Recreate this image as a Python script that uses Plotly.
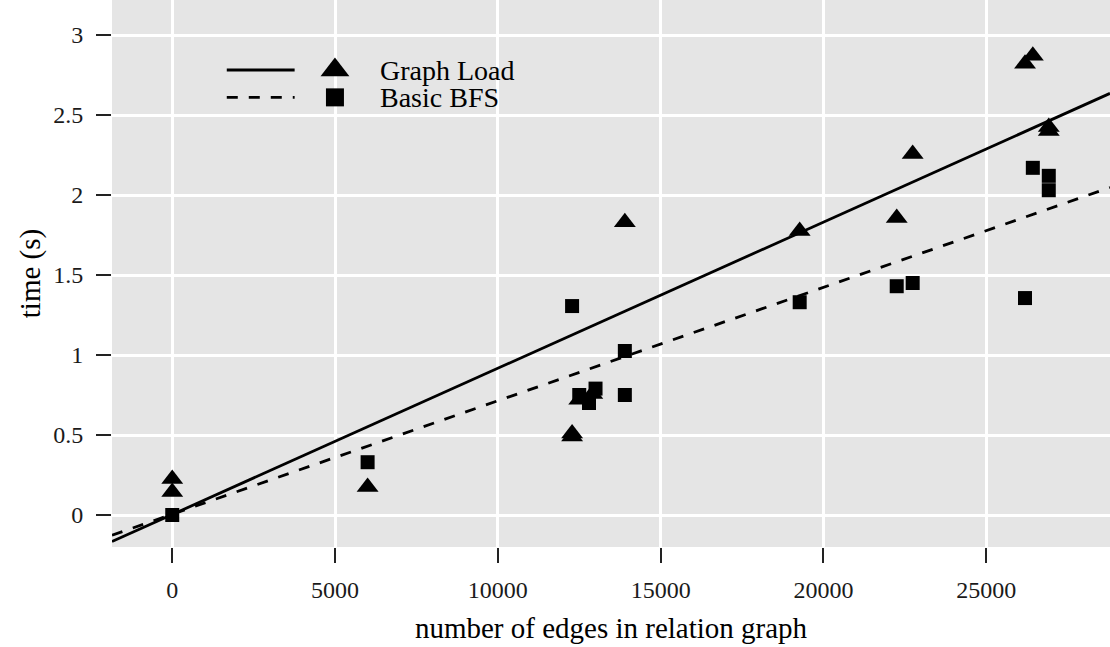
import numpy as np
import plotly.graph_objects as go

# ---- data ----
series_names = ["Graph Load", "Basic BFS"]

load_edges = [0, 0, 6000, 12280, 12280, 12500, 12900, 13900, 19270, 22250, 22740, 26190, 26430, 26920, 26920]
load_time = [0.225, 0.144, 0.175, 0.51, 0.49, 0.72, 0.756, 1.83, 1.775, 1.856, 2.256, 2.82, 2.87, 2.425, 2.40]

bfs_edges = [0, 6000, 12280, 12500, 12800, 13000, 13900, 13900, 19270, 22250, 22740, 26190, 26430, 26920, 26920]
bfs_time = [0.0, 0.33, 1.306, 0.75, 0.70, 0.79, 1.025, 0.75, 1.33, 1.43, 1.45, 1.356, 2.17, 2.12, 2.03]

# linear fits (intercept, slope) as drawn in the reference
fit_intercept = [0.003, 0.005]
fit_slope = [9.14e-5, 7.09e-5]

x_ticks = [0, 5000, 10000, 15000, 20000, 25000]
y_ticks = [0, 0.5, 1, 1.5, 2, 2.5, 3]
y_tick_text = ["0", "0.5", "1", "1.5", "2", "2.5", "3"]

x_range = [-1850, 28800]
y_range = [-0.2, 3.219]

FONT = "Liberation Serif"
INK = "#000000"

fig = go.Figure()

# regression lines across the full panel
xs = np.array(x_range, dtype=float)
dashes = ["solid", "11px,11px"]
for i in range(2):
    fig.add_trace(go.Scatter(
        x=xs, y=fit_intercept[i] + fit_slope[i] * xs,
        mode="lines", line=dict(color=INK, width=2.8, dash=dashes[i]),
        showlegend=False, hoverinfo="skip"))

fig.add_trace(go.Scatter(
    x=load_edges, y=load_time, mode="markers", name=series_names[0],
    marker=dict(symbol="triangle-up", size=19, color=INK, line=dict(width=0)),
    showlegend=False))
fig.add_trace(go.Scatter(
    x=bfs_edges, y=bfs_time, mode="markers", name=series_names[1],
    marker=dict(symbol="square", size=14, color=INK, line=dict(width=0)),
    showlegend=False))

# ---- manual legend drawn on an overlay axis (0..1) ----
leg_line_x = [0.115, 0.183]
leg_rows_y = [0.872, 0.822]
leg_marker_x = 0.2234
leg_symbols = ["triangle-up", "square"]
leg_sizes = [25, 18]
for i in range(2):
    fig.add_trace(go.Scatter(
        x=leg_line_x, y=[leg_rows_y[i]] * 2, xaxis="x2", yaxis="y2",
        mode="lines", line=dict(color=INK, width=2.8, dash=dashes[i]),
        showlegend=False, hoverinfo="skip"))
    fig.add_trace(go.Scatter(
        x=[leg_marker_x], y=[leg_rows_y[i]], xaxis="x2", yaxis="y2",
        mode="markers",
        marker=dict(symbol=leg_symbols[i], size=leg_sizes[i], color=INK, line=dict(width=0)),
        showlegend=False, hoverinfo="skip"))
    fig.add_annotation(
        x=0.2665, y=leg_rows_y[i], xref="x2", yref="y2",
        text=series_names[i], showarrow=False, xanchor="left", yanchor="middle",
        font=dict(family=FONT, size=28, color=INK))

fig.update_layout(
    width=1110, height=647,
    margin=dict(l=112, r=0, t=0, b=100),
    paper_bgcolor="white",
    plot_bgcolor="#E5E5E5",
    font=dict(family=FONT, color="#222222"),
    xaxis=dict(
        range=x_range, tickvals=x_ticks, ticktext=[str(v) for v in x_ticks],
        showgrid=True, gridcolor="white", gridwidth=2.5, zeroline=False,
        ticks="outside", ticklen=15, tickwidth=1.5, tickcolor="#222222",
        tickfont=dict(family=FONT, size=24, color="#1a1a1a"),
        ticklabelstandoff=6,
        title=dict(text="number of edges in relation graph",
                   font=dict(family=FONT, size=29, color=INK), standoff=15),
        showline=False),
    yaxis=dict(
        range=y_range, tickvals=y_ticks, ticktext=y_tick_text,
        showgrid=True, gridcolor="white", gridwidth=2.5, zeroline=False,
        ticks="outside", ticklen=15, tickwidth=1.5, tickcolor="#222222",
        tickfont=dict(family=FONT, size=24, color="#1a1a1a"),
        ticklabelstandoff=8,
        title=dict(text="time (s)", font=dict(family=FONT, size=29, color=INK), standoff=4),
        showline=False),
    xaxis2=dict(range=[0, 1], overlaying="x", visible=False, fixedrange=True),
    yaxis2=dict(range=[0, 1], overlaying="y", visible=False, fixedrange=True),
)

fig.write_html("out.html")
